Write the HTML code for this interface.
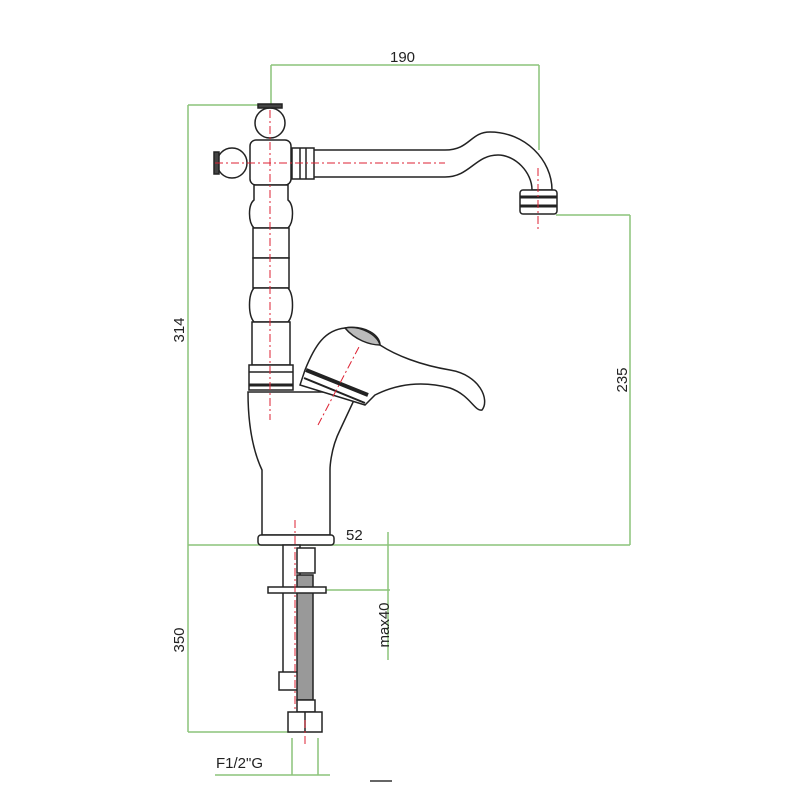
<!DOCTYPE html>
<html><head><meta charset="utf-8"><style>html,body{margin:0;padding:0;background:#fff}svg{display:block}</style></head>
<body>
<svg width="800" height="800" viewBox="0 0 800 800" xmlns="http://www.w3.org/2000/svg" font-family="Liberation Sans, sans-serif">
<g stroke="#8cc47a" stroke-width="1.5" fill="none">
<path d="M271 65H539M271 65V105M539 65V150"/>
<path d="M188 105H262M188 105V732"/>
<path d="M556 215H630M630 215V545"/>
<path d="M188 545H630"/>
<path d="M388 532V660"/>
<path d="M325 590H390"/>
<path d="M188 732H290"/>
<path d="M215 775H330M292 738V775M318 738V775"/>
</g>
<g font-size="15" fill="#222">
<text x="390" y="62">190</text>
<text x="346" y="540">52</text>
<text transform="translate(184,330) rotate(-90)" text-anchor="middle">314</text>
<text transform="translate(627,380) rotate(-90)" text-anchor="middle">235</text>
<text transform="translate(184,640) rotate(-90)" text-anchor="middle">350</text>
<text transform="translate(389,625) rotate(-90)" text-anchor="middle">max40</text>
<text x="216" y="768">F1/2"G</text>
</g>
<line x1="370" y1="781" x2="392" y2="781" stroke="#333" stroke-width="1.5"/>
<g stroke="#222" stroke-width="1.5" fill="#fff">
<path d="M312 150H445C470 150 470 132 490 132C525 132 552 160 552 190H532C532 172 515 155 498 155C475 155 470 177 445 177H312Z"/>
<rect x="520" y="190" width="37" height="24" rx="3"/>
<line x1="520" y1="197" x2="557" y2="197" stroke-width="3"/>
<line x1="520" y1="206" x2="557" y2="206" stroke-width="3"/>
<rect x="292" y="148" width="22" height="31"/>
<line x1="300" y1="148" x2="300" y2="179"/><line x1="306" y1="148" x2="306" y2="179"/>
<circle cx="270" cy="123" r="15"/>
<rect x="258" y="104" width="24" height="4" fill="#444"/>
<circle cx="232" cy="163" r="15"/>
<rect x="214" y="152" width="5" height="22" fill="#444"/>
<rect x="250" y="140" width="41" height="45" rx="6"/>
<path d="M254 185H288V200C294 205 294 222 288 228H254C248 222 248 205 254 200Z"/>
<rect x="253" y="228" width="36" height="30"/>
<rect x="253" y="258" width="36" height="30"/>
<path d="M254 288H288C294 295 294 315 288 322H254C248 315 248 295 254 288Z"/>
<rect x="252" y="322" width="38" height="43"/>
<rect x="249" y="365" width="44" height="25"/>
<line x1="249" y1="372" x2="293" y2="372"/><line x1="249" y1="385" x2="293" y2="385" stroke-width="3"/>
<path d="M248 392H304L330 392L355 398L340 430C330 450 330 470 330 470V535H262V470C255 455 248 430 248 392Z"/>
<path d="M305 370C315 345 325 330 345 328C365 325 380 335 380 345C395 355 420 365 450 370C480 375 490 400 482 410C475 412 470 395 450 388C420 380 395 385 375 395L365 405L300 385Z"/>
<line x1="306" y1="370" x2="368" y2="395" stroke-width="4"/>
<line x1="304" y1="378" x2="365" y2="403" stroke-width="2"/>
<path d="M345 328C360 325 378 335 380 345C370 345 355 340 345 328Z" fill="#bbb"/>
<rect x="258" y="535" width="76" height="10" rx="3"/>
<rect x="283" y="545" width="17" height="128"/>
<rect x="279" y="672" width="19" height="18"/>
<rect x="297" y="548" width="18" height="25"/>
<rect x="297" y="575" width="16" height="125" fill="#999"/>
<rect x="297" y="700" width="18" height="12"/>
<rect x="268" y="587" width="58" height="6"/>
<rect x="288" y="712" width="34" height="20"/>
<line x1="305" y1="712" x2="305" y2="732"/>
</g>
<g stroke="#d23" stroke-width="1" stroke-dasharray="8,3,2,3" fill="none">
<line x1="270" y1="110" x2="270" y2="420"/>
<line x1="215" y1="163" x2="445" y2="163"/>
<line x1="538" y1="168" x2="538" y2="230"/>
<line x1="318" y1="425" x2="360" y2="345"/>
<line x1="295" y1="520" x2="295" y2="710"/>
<line x1="305" y1="720" x2="305" y2="745"/>
</g>
</svg>
</body></html>
